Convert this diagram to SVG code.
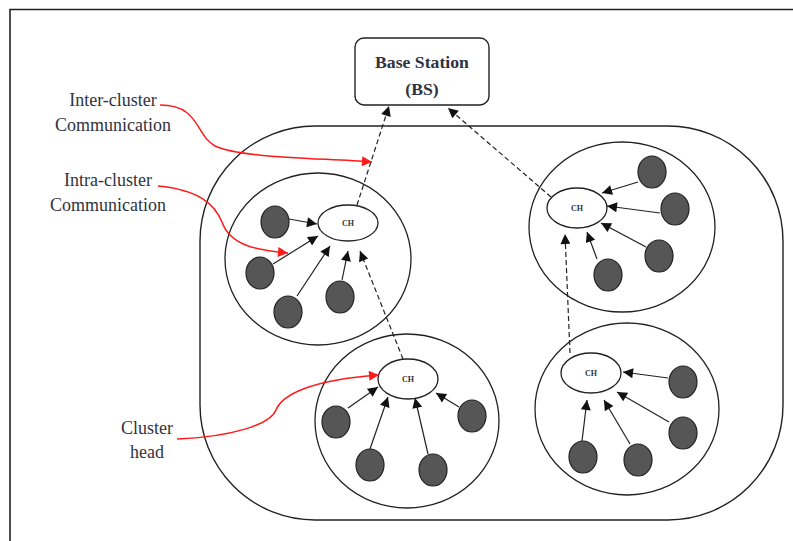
<svg xmlns="http://www.w3.org/2000/svg" width="793" height="541" viewBox="0 0 793 541">
  <style>
    .frame { fill: none; stroke: #222; stroke-width: 1.6; }
    .region { fill: none; stroke: #222; stroke-width: 1.4; }
    .cluster { fill: none; stroke: #222; stroke-width: 1.3; }
    .ch { fill: #fff; stroke: #222; stroke-width: 1.3; }
    .sensor { fill: #565656; stroke: #222; stroke-width: 1.2; }
    .link { stroke: #222; stroke-width: 1.2; fill: none; marker-end: url(#ah); }
    .dash { stroke: #222; stroke-width: 1.2; fill: none; stroke-dasharray: 5 3; marker-end: url(#ah); }
    .note { stroke: #ff1a1a; stroke-width: 1.5; fill: none; marker-end: url(#ahr); }
    text { font-family: 'Liberation Serif', Tinos, 'Times New Roman', 'DejaVu Serif', serif; fill: #2f3340; text-anchor: middle; }
    .lbl { font-size: 18px; }
    .bs { font-size: 17.7px; font-weight: bold; }
    .chl { font-size: 8px; font-weight: bold; }
  </style>
  <defs>
    <marker id="ah" viewBox="0 0 10 10" refX="10" refY="5" markerWidth="12" markerHeight="10" orient="auto" markerUnits="userSpaceOnUse">
      <path d="M0,0 L10,5 L0,10 z" fill="#111"/>
    </marker>
    <marker id="ahr" viewBox="0 0 10 10" refX="10" refY="5" markerWidth="12" markerHeight="10" orient="auto" markerUnits="userSpaceOnUse">
      <path d="M0,0 L10,5 L0,10 z" fill="#ff1a1a"/>
    </marker>
  </defs>

  <!-- page frame (top and left edges) -->
  <path class="frame" d="M10,541 V9.5 H793"/>

  <!-- network region -->
  <rect class="region" x="200" y="126" width="583" height="394" rx="115" ry="115"/>

  <!-- base station -->
  <g id="base-station">
    <rect x="355" y="38" width="134" height="67" rx="9" ry="9" fill="#fff" stroke="#222" stroke-width="1.4"/>
    <text class="bs" x="422" y="68">Base Station</text>
    <text class="bs" x="422" y="95">(BS)</text>
  </g>

  <!-- cluster 1 (upper left) -->
  <g id="cluster-1">
    <ellipse class="cluster" cx="318" cy="259" rx="93" ry="86"/>
    <ellipse class="sensor" cx="275" cy="222" rx="14" ry="16"/>
    <ellipse class="sensor" cx="260" cy="273" rx="14" ry="16"/>
    <ellipse class="sensor" cx="288" cy="312" rx="14" ry="16"/>
    <ellipse class="sensor" cx="340" cy="297" rx="14" ry="16"/>
    <ellipse class="ch" cx="348" cy="223" rx="30" ry="18"/>
    <text class="chl" x="348" y="226">CH</text>
  </g>

  <!-- cluster 2 (upper right) -->
  <g id="cluster-2">
    <ellipse class="cluster" cx="622" cy="227" rx="93" ry="85"/>
    <ellipse class="sensor" cx="652" cy="172" rx="14" ry="16"/>
    <ellipse class="sensor" cx="675" cy="209" rx="14" ry="16"/>
    <ellipse class="sensor" cx="659" cy="256" rx="14" ry="16"/>
    <ellipse class="sensor" cx="608" cy="275" rx="14" ry="16"/>
    <ellipse class="ch" cx="577" cy="208" rx="30" ry="20"/>
    <text class="chl" x="577" y="211">CH</text>
  </g>

  <!-- cluster 3 (lower middle) -->
  <g id="cluster-3">
    <ellipse class="cluster" cx="407" cy="421" rx="92" ry="87"/>
    <ellipse class="sensor" cx="336" cy="422" rx="14" ry="16"/>
    <ellipse class="sensor" cx="370" cy="465" rx="14" ry="16"/>
    <ellipse class="sensor" cx="433" cy="470" rx="14" ry="16"/>
    <ellipse class="sensor" cx="472" cy="416" rx="14" ry="16"/>
    <ellipse class="ch" cx="408" cy="379" rx="30" ry="20"/>
    <text class="chl" x="408" y="382">CH</text>
  </g>

  <!-- cluster 4 (lower right) -->
  <g id="cluster-4">
    <ellipse class="cluster" cx="627" cy="409" rx="92" ry="86"/>
    <ellipse class="sensor" cx="683" cy="382" rx="14" ry="16"/>
    <ellipse class="sensor" cx="683" cy="433" rx="14" ry="16"/>
    <ellipse class="sensor" cx="638" cy="460" rx="14" ry="16"/>
    <ellipse class="sensor" cx="583" cy="457" rx="14" ry="16"/>
    <ellipse class="ch" cx="591" cy="373" rx="30" ry="20"/>
    <text class="chl" x="591" y="376">CH</text>
  </g>

  <!-- annotations -->
  <g id="label-inter">
    <text class="lbl" x="113" y="106">Inter-cluster</text>
    <text class="lbl" x="113" y="131">Communication</text>
  </g>
  <g id="label-intra">
    <text class="lbl" x="108" y="186">Intra-cluster</text>
    <text class="lbl" x="108" y="211">Communication</text>
  </g>
  <g id="label-head">
    <text class="lbl" x="147" y="434">Cluster</text>
    <text class="lbl" x="147" y="458">head</text>
  </g>

  <g id="connectors">
    <!-- member to cluster head -->
    <line class="link" x1="289" y1="219" x2="317" y2="224"/>
    <line class="link" x1="273" y1="264" x2="318" y2="236"/>
    <line class="link" x1="297" y1="296" x2="330" y2="246"/>
    <line class="link" x1="342" y1="280" x2="348" y2="251"/>

    <line class="link" x1="638" y1="182" x2="602" y2="193"/>
    <line class="link" x1="660" y1="213" x2="607" y2="206"/>
    <line class="link" x1="646" y1="247" x2="601" y2="223"/>
    <line class="link" x1="597" y1="259" x2="587" y2="232"/>

    <line class="link" x1="348" y1="408" x2="378" y2="387"/>
    <line class="link" x1="370" y1="449" x2="388" y2="397"/>
    <line class="link" x1="428" y1="454" x2="415" y2="398"/>
    <line class="link" x1="459" y1="407" x2="436" y2="393"/>

    <line class="link" x1="668" y1="378" x2="623" y2="372"/>
    <line class="link" x1="669" y1="422" x2="617" y2="392"/>
    <line class="link" x1="630" y1="444" x2="604" y2="400"/>
    <line class="link" x1="582" y1="441" x2="587" y2="400"/>

    <!-- cluster head relays -->
    <line class="dash" x1="357" y1="205" x2="389" y2="106"/>
    <line class="dash" x1="551" y1="197" x2="448" y2="108"/>
    <line class="dash" x1="403" y1="359" x2="360" y2="251"/>
    <line class="dash" x1="570" y1="353" x2="565" y2="234"/>

    <!-- annotation pointers -->
    <path class="note" d="M160,105 C200,105 195,135 215,146 C240,158 320,158 372,162"/>
    <path class="note" d="M158,186 C200,190 215,205 222,222 C230,245 255,250 288,253"/>
    <path class="note" d="M177,439 C230,437 270,425 276,410 C282,395 310,380 379,375"/>
  </g>
</svg>
